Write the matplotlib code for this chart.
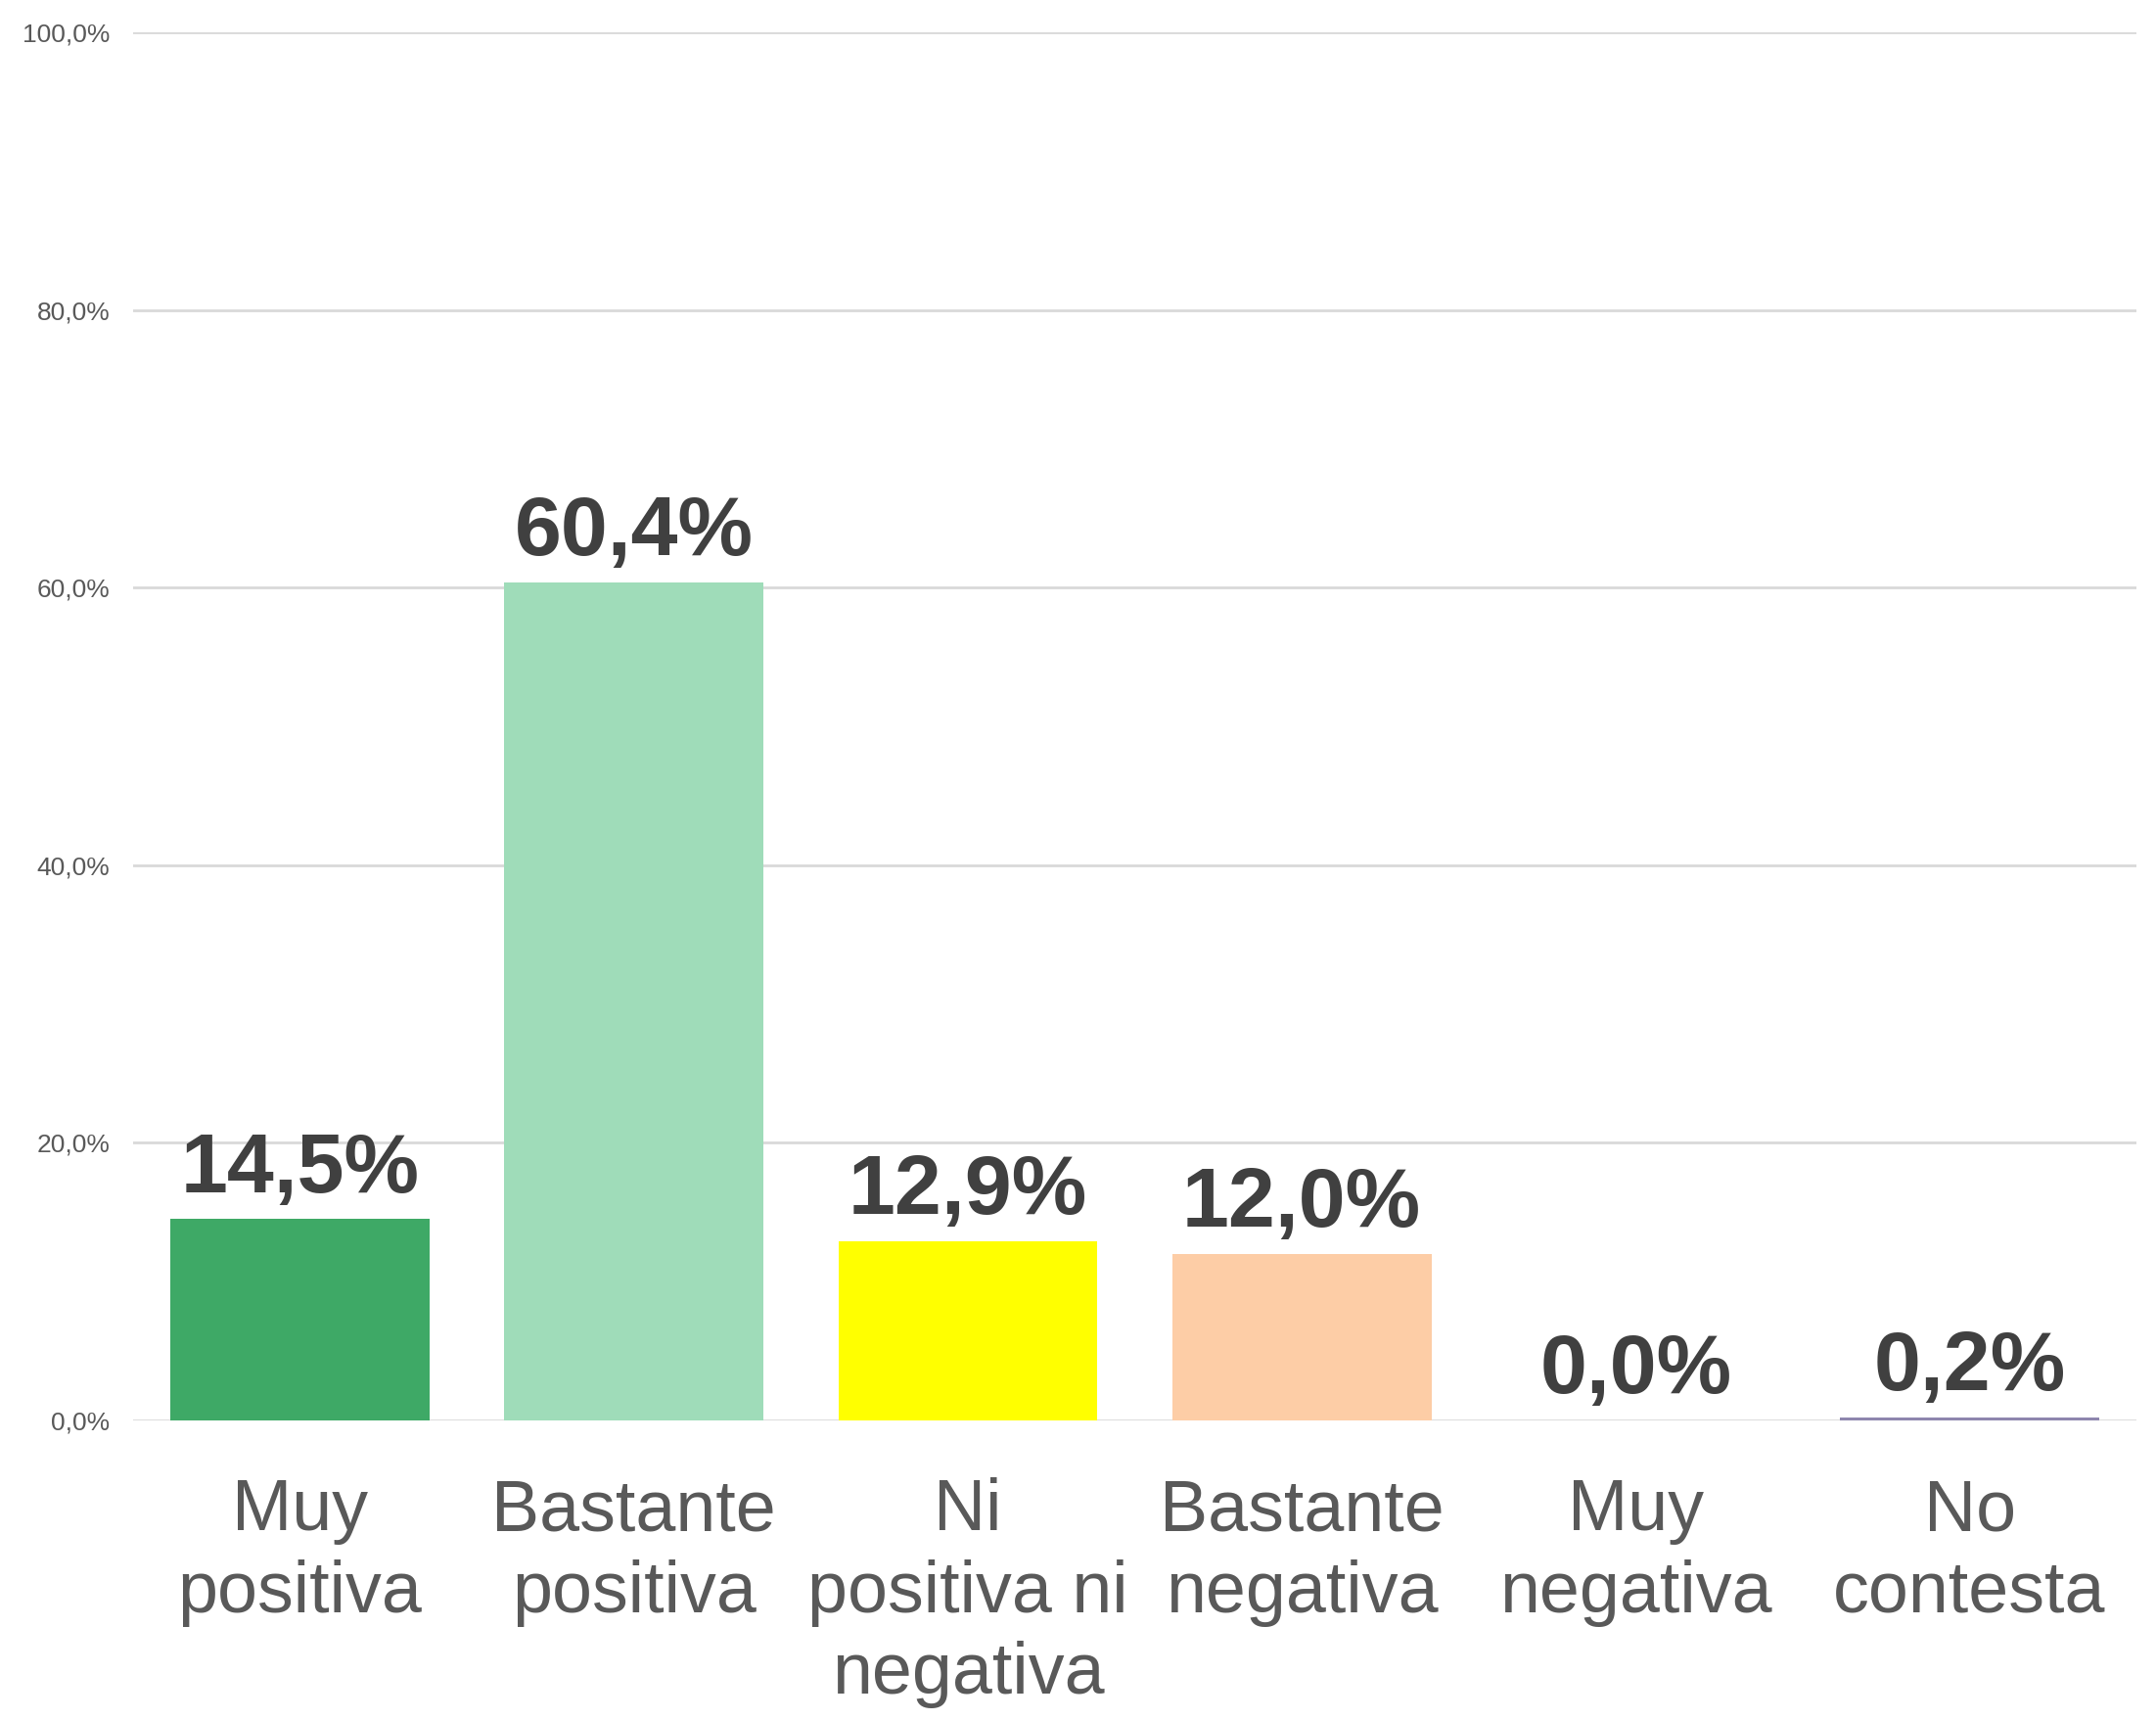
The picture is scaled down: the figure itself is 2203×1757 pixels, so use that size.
import matplotlib.pyplot as plt
import numpy as np
from matplotlib.ticker import FuncFormatter

plt.rcParams['font.family'] = ['Liberation Sans', 'DejaVu Sans']

categorias = ['Muy\npositiva', 'Bastante\npositiva', 'Ni\npositiva ni\nnegativa',
              'Bastante\nnegativa', 'Muy\nnegativa', 'No\ncontesta']
valores = [14.5, 60.4, 12.9, 12.0, 0.0, 0.2]
colores = ['#3EA966', '#9FDCB9', '#FFFF00', '#FDCDA6', '#8E86AE', '#8E86AE']
yticks = [0, 20, 40, 60, 80, 100]

fig = plt.figure(figsize=(22.03, 17.57), dpi=100)
ax = fig.add_axes([0.0617, 0.1742, 0.9293, 0.807])

x = np.arange(len(categorias))
ax.bar(x, valores, width=0.776, color=colores, zorder=3)

for xi, v in zip(x, valores):
    ax.annotate(f'{v:.1f}%'.replace('.', ','), (xi, v), xytext=(0, 20),
                textcoords='offset points', ha='center', va='baseline',
                fontsize=62, fontweight='bold', color='#404040')

ax.set_xlim(-0.5, len(categorias) - 0.5)
ax.set_ylim(0, 100)
ax.set_yticks(yticks)
ax.yaxis.set_major_formatter(FuncFormatter(lambda v, p: f'{v:.1f}%'.replace('.', ',')))
ax.grid(axis='y', color='#D9D9D9', linewidth=2, zorder=0)
ax.set_xticks(x)
ax.set_xticklabels(categorias, fontsize=53, color='#595959', linespacing=1.27)
ax.tick_params(axis='x', length=0, pad=42)
ax.tick_params(axis='y', length=0, pad=17, labelsize=19, labelcolor='#595959')
for s in ax.spines.values():
    s.set_visible(False)

fig.savefig('out.png', dpi=100)
